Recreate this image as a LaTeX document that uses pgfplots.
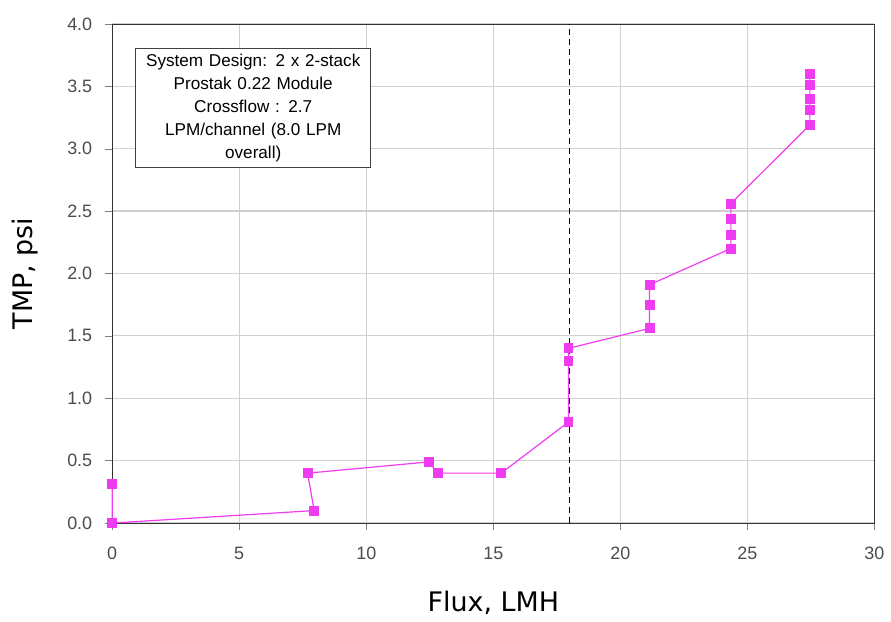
\documentclass[border=0pt]{standalone}
\usepackage{pgfplots}
\pgfplotsset{compat=1.18}
\usepackage{fontspec}
\setmainfont{Liberation Sans}
\newfontfamily\labelfont{DejaVu Sans}
\definecolor{mag}{HTML}{F03CF0}
\definecolor{gridgray}{HTML}{D0D0D0}

\begin{document}
\begin{tikzpicture}
\begin{axis}[
  scale only axis,
  width=382.5pt, height=250.5pt,
  xmin=0, xmax=30, ymin=0, ymax=4,
  xtick={0,5,...,30}, ytick={0,0.5,...,4},
  /pgf/number format/assume math mode=true,
  tick label style={font=\fontsize{9}{10}\selectfont, text=black!70},
  yticklabel style={xshift=-3pt, /pgf/number format/fixed, /pgf/number format/fixed zerofill, /pgf/number format/precision=1},
  xticklabel style={yshift=-5pt},
  tick align=outside, tick pos=left,
  major tick length=3.5pt,
  grid=major, grid style={gridgray, line width=0.6pt},
  axis line style={black!80},
  xlabel={\labelfont Flux, LMH},
  ylabel={\labelfont TMP, psi},
  label style={font=\fontsize{13.5}{15}\selectfont},
  xlabel style={yshift=-9pt},
  ylabel style={yshift=8pt},
  clip=false,
]
\addplot[black, dash pattern=on 3pt off 2pt, line width=0.8pt] coordinates {(18,0) (18,4)};
\addplot[mag, line width=0.6pt, mark=square*, mark size=2.2pt, mark options={fill=mag, draw=mag, solid}] coordinates {
(0,0.31) (0,0) (7.95,0.10) (7.69,0.40) (12.46,0.49) (12.82,0.40) (15.31,0.40)
(17.96,0.81) (17.96,1.30) (17.96,1.40)
(21.15,1.56) (21.15,1.75) (21.15,1.91)
(24.35,2.20) (24.35,2.31) (24.35,2.44) (24.35,2.56)
(27.46,3.19) (27.46,3.31) (27.46,3.40) (27.46,3.51) (27.46,3.60)
};
\node[draw=black!75, line width=0.6pt, fill=white, align=center, text width=112pt,
  font=\fontsize{8.6}{11.5}\selectfont, inner sep=3pt, anchor=north west]
  at (axis cs:0.9,3.81) {System Design: 2 x 2-stack\\Prostak 0.22 Module\\Crossflow : 2.7\\LPM/channel (8.0 LPM\\overall)};
\path (rel axis cs:1,1) ++(0pt,12pt) coordinate (tr);
\end{axis}
\path (current bounding box.west) ++(-2.5pt,0) coordinate (padl);
\end{tikzpicture}
\end{document}
